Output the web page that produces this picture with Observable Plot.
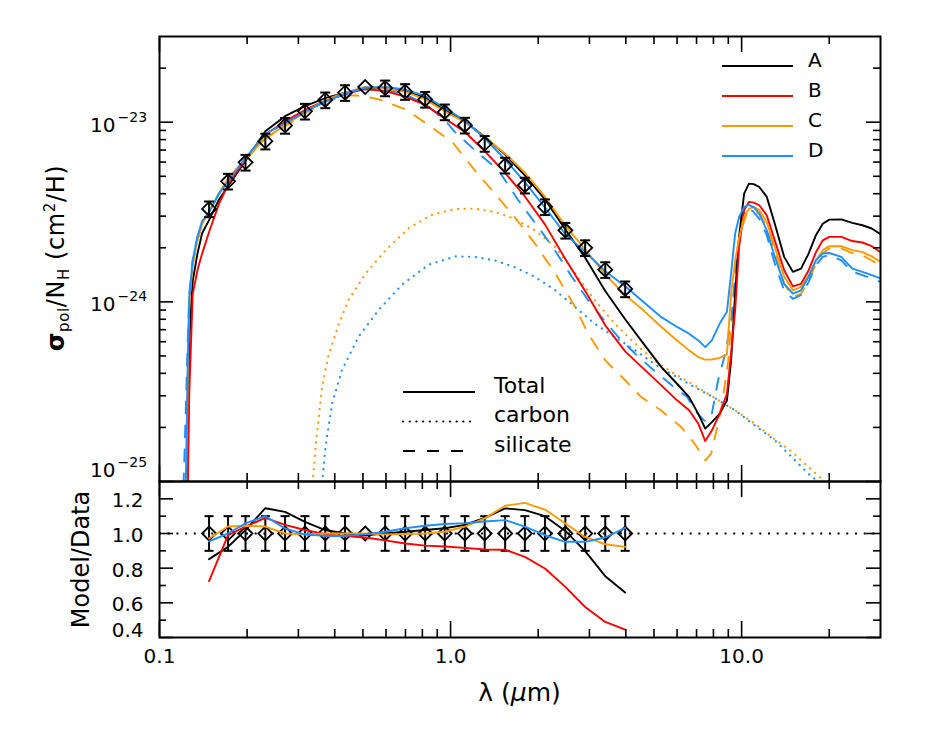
<!DOCTYPE html>
<html><head><meta charset="utf-8">
<script src="https://cdn.jsdelivr.net/npm/d3@7"></script>
<script src="https://cdn.jsdelivr.net/npm/@observablehq/plot@0.6"></script>
<style>
body{margin:0;background:#fff;}
#chart{position:relative;width:927px;height:741px;background:#fff;}
#chart svg{position:absolute;left:0;overflow:visible;}
</style></head><body><div id="chart"></div>
<script>
// ---------- DATA ----------
const UNIT = 1e-24; // polarization cross sections below are in units of 1e-24 cm^2/H

// observed data points
const lamData = [0.148,0.172,0.1975,0.231,0.270,0.316,0.371,0.434,0.509,0.596,0.698,0.818,0.955,1.12,1.31,1.54,1.80,2.11,2.48,2.90,3.40,3.98];
const polData = [3.29,4.69,5.98,7.84,9.59,11.5,13.3,14.6,15.7,15.5,14.8,13.4,11.4,9.62,7.61,5.76,4.46,3.38,2.50,2.00,1.51,1.18];
const errRel  = [0.1,0.1,0.1,0.1,0.1,0.1,0.1,0.1,0,0.1,0.1,0.1,0.1,0.1,0.1,0.1,0.1,0.1,0.1,0.1,0.1,0.1];

// model / data ratios (bottom panel)
const ratioA = [0.852,0.923,1.02,1.146,1.125,1.067,1.02,1.0,0.99,1.0,1.01,1.02,1.03,1.05,1.09,1.145,1.135,1.10,1.015,0.898,0.754,0.66];
const ratioB = [0.725,0.99,1.04,1.09,1.05,1.02,0.996,0.985,0.977,0.96,0.942,0.93,0.925,0.917,0.908,0.906,0.865,0.798,0.692,0.576,0.49,0.446];
const ratioC = [0.971,1.04,1.045,1.04,1.0,0.995,1.0,1.0,1.0,0.995,0.997,1.0,1.01,1.04,1.087,1.16,1.177,1.138,1.058,0.98,0.938,0.923];
const ratioD = [0.955,1.0,1.058,1.1,1.029,0.994,0.986,0.986,0.995,1.01,1.03,1.045,1.055,1.06,1.069,1.077,1.04,0.99,0.952,0.952,0.977,1.033];

// total model curves
const lamModel = [0.12,0.1235,0.125,0.1265,0.13,0.135,0.14,0.148,0.16,0.172,0.1975,0.231,0.27,0.316,0.371,0.434,0.509,0.596,0.698,0.818,0.955,1.12,1.31,1.54,1.80,2.11,2.48,2.90,3.40,3.98,4.6,5.3,6.0,6.6,7.1,7.5,7.9,8.4,8.9,9.2,9.5,9.8,10.2,10.6,11.0,11.5,12.2,13.0,14.0,15.0,16.0,17.0,18.0,19.0,20.0,22.0,24.0,26.0,28.0,30.0];
const totalA = [0.03,0.07,0.15,0.6,1.3,1.85,2.4,2.85,3.7,4.4,6.1,8.9,10.8,12.3,13.6,14.6,15.5,15.5,14.9,13.7,11.7,10.1,8.3,6.6,5.06,3.72,2.53,1.76,1.15,0.80,0.585,0.433,0.35,0.295,0.238,0.197,0.214,0.238,0.282,0.47,1.11,2.3,4.0,4.55,4.52,4.36,3.84,2.72,1.78,1.47,1.53,1.86,2.35,2.72,2.87,2.88,2.75,2.67,2.56,2.38];
const totalB = [0.02,0.05,0.08,0.3,1.1,1.5,1.85,2.45,3.5,4.5,6.2,8.55,10.1,11.7,13.2,14.4,15.3,14.9,13.9,12.5,10.5,8.82,6.91,5.22,3.86,2.70,1.73,1.15,0.74,0.53,0.425,0.343,0.283,0.249,0.21,0.168,0.192,0.238,0.308,0.514,0.9,2.02,3.24,3.6,3.57,3.45,3.03,2.2,1.5,1.22,1.26,1.5,1.89,2.2,2.3,2.3,2.18,2.14,2.04,1.89];
const totalC = [0.03,0.1,0.35,1.0,1.6,2.2,2.7,3.19,4.0,4.88,6.25,8.15,9.6,11.4,13.3,14.6,15.7,15.4,14.8,13.4,11.5,10.0,8.27,6.68,5.25,3.85,2.65,1.96,1.42,1.09,0.897,0.725,0.61,0.537,0.493,0.477,0.478,0.488,0.51,1.11,1.7,2.27,2.97,3.3,3.37,3.24,2.78,2.02,1.38,1.16,1.21,1.4,1.7,1.94,2.04,2.04,1.94,1.89,1.79,1.67];
const totalD = [0.04,0.12,0.45,1.05,1.7,2.3,2.8,3.15,4.0,4.69,6.33,8.62,9.87,11.4,13.1,14.4,15.6,15.7,15.2,14.0,12.0,10.2,8.14,6.2,4.64,3.35,2.38,1.9,1.48,1.22,0.997,0.822,0.725,0.665,0.61,0.56,0.61,0.755,0.88,1.44,2.4,2.97,3.38,3.47,3.37,3.1,2.5,1.78,1.26,1.11,1.16,1.38,1.7,1.86,1.87,1.78,1.53,1.47,1.41,1.35];

// silicate components (dashed)
const lamSilC = [0.12,0.1235,0.125,0.1265,0.13,0.135,0.14,0.148,0.16,0.172,0.1975,0.231,0.27,0.316,0.371,0.434,0.473,0.509,0.567,0.70,0.82,1.015,1.21,1.42,1.66,1.95,2.29,2.68,2.97,3.4,3.98,4.52,5.28,6.2,6.9,7.5,7.86,8.5,9.0,9.5,9.9,10.4,11.1,11.5,12.2,13,14,15,16,17,18,19,20,22,24,26,28,30];
const silC = [0.03,0.1,0.35,1.0,1.6,2.2,2.7,3.19,4.0,4.85,6.2,8.1,9.5,11.2,13.0,14.0,14.1,13.9,13.4,11.8,9.9,7.74,5.41,4.0,2.97,2.11,1.44,0.935,0.665,0.472,0.366,0.295,0.249,0.201,0.162,0.131,0.143,0.249,0.472,1.38,2.4,3.1,3.17,3.08,2.62,1.89,1.26,1.06,1.11,1.32,1.63,1.86,1.98,1.98,1.87,1.82,1.7,1.6];
const lamSilD = [0.12,0.1215,0.1235,0.125,0.1265,0.13,0.135,0.14,0.148,0.16,0.172,0.1975,0.231,0.27,0.316,0.371,0.434,0.509,0.596,0.698,0.818,0.955,1.034,1.21,1.46,1.71,2.0,2.28,2.61,2.97,3.3,3.77,4.31,5.0,5.86,6.5,7.06,7.5,7.86,8.3,8.78,9.24,9.6,9.99,10.5,11.0,11.5,12.2,13,14,15,16,17,18,19,20,22,24,26,28,30];
const silD = [0.07,0.12,0.3,0.6,1.1,1.7,2.3,2.8,3.15,4.0,4.65,6.3,8.6,9.85,11.4,13.0,14.3,15.3,15.2,14.3,12.6,10.3,8.83,7.0,5.41,3.67,2.61,1.94,1.38,1.02,0.822,0.637,0.514,0.415,0.335,0.295,0.238,0.216,0.228,0.366,0.514,0.822,1.7,2.97,3.37,3.16,2.9,2.35,1.63,1.16,1.04,1.09,1.29,1.6,1.78,1.82,1.7,1.47,1.41,1.35,1.29];

// carbon components (dotted)
const lamCarC = [0.33,0.344,0.362,0.38,0.414,0.447,0.511,0.60,0.72,0.865,1.04,1.21,1.42,1.66,1.95,2.29,2.68,3.13,3.67,4.31,5.0,5.86,6.9,8.0,9.5,11.1,12.7,15,17,19.3,21];
const carC = [0.07,0.157,0.338,0.497,0.762,1.03,1.44,1.95,2.58,3.06,3.29,3.3,3.17,2.9,2.5,2.02,1.44,1.02,0.755,0.585,0.472,0.399,0.343,0.295,0.249,0.21,0.177,0.145,0.12,0.1,0.085];
const lamCarD = [0.355,0.372,0.392,0.424,0.484,0.567,0.682,0.84,1.04,1.21,1.42,1.66,1.95,2.29,2.68,3.13,3.67,4.31,5.0,5.86,6.9,8.0,9.5,11.1,13,15,17,18.3,20];
const carD = [0.07,0.157,0.273,0.419,0.643,0.904,1.25,1.61,1.79,1.78,1.7,1.56,1.38,1.16,0.935,0.755,0.637,0.537,0.453,0.39,0.335,0.295,0.249,0.205,0.17,0.135,0.11,0.1,0.085];

const seriesNames = ["A","B","C","D"];
const seriesColors = ["#000000","#ff0000","#ff9900","#1e8fff"];
const styleNames = ["Total","carbon","silicate"];
const styleDash = [null,"0.1,6.6","12,12"];

// tick values
const xMajor = [0.1,1,10];
const xMinor = [0.2,0.3,0.4,0.5,0.6,0.7,0.8,0.9,2,3,4,5,6,7,8,9,20];
const yTopMajor = [1e-25,1e-24,1e-23];
const yTopMinor = [2e-25,3e-25,4e-25,5e-25,6e-25,7e-25,8e-25,9e-25,2e-24,3e-24,4e-24,5e-24,6e-24,7e-24,8e-24,9e-24,2e-23];
const yBotMajor = [0.4,0.6,0.8,1.0,1.2];
const yBotMinor = [0.5,0.7,0.9,1.1];

// ---------- BUILD ----------
const FONT = "DejaVu Sans";
const W = 927, ML = 159, MR = 47;
const innerW = W - ML - MR;
const rows = (lams, vals, k) => lams.map((x, i) => ({x, y: vals[i] * k}));
const fmt1 = d3.format(".1f");

const capSym = {draw(ctx, size){const r = Math.sqrt(size/Math.PI); ctx.moveTo(-r,0); ctx.lineTo(r,0);}};
const diaSym = {draw(ctx, size){const r = Math.sqrt(size/Math.PI); ctx.moveTo(0,-r); ctx.lineTo(r,0); ctx.lineTo(0,r); ctx.lineTo(-r,0); ctx.closePath();}};

function frameTicks(innerH, yMajor, yMinor){
  const s = {stroke:"black", strokeWidth:1.6};
  return [
    Plot.tickX(xMajor, {x:d=>d, insetTop: innerH-16, ...s}),
    Plot.tickX(xMajor, {x:d=>d, insetBottom: innerH-16, ...s}),
    Plot.tickX(xMinor, {x:d=>d, insetTop: innerH-8, ...s}),
    Plot.tickX(xMinor, {x:d=>d, insetBottom: innerH-8, ...s}),
    Plot.tickY(yMajor, {y:d=>d, insetRight: innerW-14, ...s}),
    Plot.tickY(yMajor, {y:d=>d, insetLeft: innerW-14, ...s}),
    Plot.tickY(yMinor, {y:d=>d, insetRight: innerW-7, ...s}),
    Plot.tickY(yMinor, {y:d=>d, insetLeft: innerW-7, ...s})
  ];
}

// ---- top panel ----
const topH = 482, topMT = 36, topMB = 1;
const innerHTop = topH - topMT - topMB;
const totals = [totalA,totalB,totalC,totalD];
const dataRows = lamData.map((x,i)=>({x, y: polData[i]*UNIT, e: errRel[i]}));
const lw = 1.9;
const dotOpts = {strokeWidth: 2.2, strokeDasharray: styleDash[1], strokeLinecap: "round", clip: true};

const topMarks = [
  Plot.line(rows(lamCarC, carC, UNIT), {x:"x", y:"y", stroke: seriesColors[2], ...dotOpts}),
  Plot.line(rows(lamCarD, carD, UNIT), {x:"x", y:"y", stroke: seriesColors[3], ...dotOpts}),
  Plot.line(rows(lamSilC, silC, UNIT), {x:"x", y:"y", stroke: seriesColors[2], strokeWidth: lw, strokeDasharray: styleDash[2], clip:true}),
  Plot.line(rows(lamSilD, silD, UNIT), {x:"x", y:"y", stroke: seriesColors[3], strokeWidth: lw, strokeDasharray: styleDash[2], clip:true}),
  ...totals.map((t,i)=>Plot.line(rows(lamModel, t, UNIT), {x:"x", y:"y", stroke: seriesColors[i], strokeWidth: lw, clip:true})),
  Plot.ruleX(dataRows.filter(d=>d.e>0), {x:"x", y1:d=>d.y*(1-d.e), y2:d=>d.y*(1+d.e), stroke:"black", strokeWidth:2}),
  Plot.dot(dataRows.filter(d=>d.e>0), {x:"x", y:d=>d.y*(1-d.e), symbol:capSym, r:5, stroke:"black", strokeWidth:2, fill:"none"}),
  Plot.dot(dataRows.filter(d=>d.e>0), {x:"x", y:d=>d.y*(1+d.e), symbol:capSym, r:5, stroke:"black", strokeWidth:2, fill:"none"}),
  Plot.dot(dataRows, {x:"x", y:"y", symbol:diaSym, r:7, stroke:"black", strokeWidth:1.8, fill:"none"}),
  ...frameTicks(innerHTop, yTopMajor, yTopMinor),
  Plot.frame({stroke:"black", strokeWidth:2}),
  Plot.text(yTopMajor.slice(1), {y:d=>d, frameAnchor:"left", text:()=>"10", textAnchor:"end", dx:-44, dy:3, fontSize:20}),
  Plot.text(yTopMajor.slice(1), {y:d=>d, frameAnchor:"left", text:d=>"\u2212"+Math.round(-Math.log10(d)), textAnchor:"start", dx:-42, dy:-5, fontSize:14}),
  Plot.text(yTopMajor.slice(0,1), {y:d=>d, frameAnchor:"left", text:()=>"10", textAnchor:"end", dx:-44, dy:-11, fontSize:20}),
  Plot.text(yTopMajor.slice(0,1), {y:d=>d, frameAnchor:"left", text:d=>"\u2212"+Math.round(-Math.log10(d)), textAnchor:"start", dx:-42, dy:-19, fontSize:14})
];

const topSvg = Plot.plot({
  width: W, height: topH, marginLeft: ML, marginRight: MR, marginTop: topMT, marginBottom: topMB,
  style: {fontFamily: FONT, fontSize: "20px", background: "transparent", overflow: "visible", color: "black"},
  x: {type:"log", domain:[0.1,30], axis:null},
  y: {type:"log", domain:[1e-25,3e-23], axis:null},
  marks: topMarks
});

// ---- bottom panel ----
const botTopPos = 480;
const botH = 261, botMT = 1, botMB = 104;
const innerHBot = botH - botMT - botMB;
const ratios = [ratioA,ratioB,ratioC,ratioD];
const ratioRows = lamData.map((x,i)=>({x, r: polData[i]/polData[i], e: errRel[i]}));

const botSvg = Plot.plot({
  width: W, height: botH, marginLeft: ML, marginRight: MR, marginTop: botMT, marginBottom: botMB,
  style: {fontFamily: FONT, fontSize: "20px", background: "transparent", overflow: "visible", color: "black"},
  x: {type:"log", domain:[0.1,30], axis:null},
  y: {type:"linear", domain:[0.4,1.3], axis:null},
  marks: [
    Plot.ruleY([1], {stroke:"black", strokeWidth:2, strokeDasharray:"2,6.7"}),
    Plot.ruleX(ratioRows.filter(d=>d.e>0), {x:"x", y1:d=>d.r-d.e, y2:d=>d.r+d.e, stroke:"black", strokeWidth:2}),
    Plot.dot(ratioRows.filter(d=>d.e>0), {x:"x", y:d=>d.r-d.e, symbol:capSym, r:4.5, stroke:"black", strokeWidth:2, fill:"none"}),
    Plot.dot(ratioRows.filter(d=>d.e>0), {x:"x", y:d=>d.r+d.e, symbol:capSym, r:4.5, stroke:"black", strokeWidth:2, fill:"none"}),
    Plot.dot(ratioRows, {x:"x", y:"r", symbol:diaSym, r:7, stroke:"black", strokeWidth:1.8, fill:"none"}),
    ...ratios.map((r,i)=>Plot.line(rows(lamData, r, 1), {x:"x", y:"y", stroke: seriesColors[i], strokeWidth: lw, clip:true})),
    ...frameTicks(innerHBot, yBotMajor, yBotMinor),
    Plot.frame({stroke:"black", strokeWidth:2}),
    Plot.text(yBotMajor.slice(1), {y:d=>d, frameAnchor:"left", text:d=>fmt1(d), textAnchor:"end", dx:-16, dy:2, fontSize:20}),
    Plot.text(yBotMajor.slice(0,1), {y:d=>d, frameAnchor:"left", text:d=>fmt1(d), textAnchor:"end", dx:-16, dy:-7, fontSize:20}),
    Plot.text(xMajor, {x:d=>d, frameAnchor:"bottom", text:d=>fmt1(d), dy:25, fontSize:20}),
    Plot.text(["Model/Data"], {frameAnchor:"left", text:d=>d, rotate:-90, textAnchor:"middle", dx:-78, fontSize:24})
  ]
});

// ---- assemble ----
const root = document.getElementById("chart");
topSvg.style.top = "0px";
botSvg.style.top = botTopPos + "px";
root.appendChild(topSvg);
root.appendChild(botSvg);

// y title of top panel with sub/superscripts
const st = d3.select(topSvg);
const t = st.append("text").attr("transform","translate(64,258) rotate(-90)")
  .attr("text-anchor","middle").attr("font-family",FONT).attr("font-size",24).attr("fill","black").attr("letter-spacing","0.6");
t.append("tspan").attr("font-weight","bold").text("\u03c3");
t.append("tspan").attr("font-size",15).attr("dy",5).text("pol");
t.append("tspan").attr("dy",-5).text("/N");
t.append("tspan").attr("font-size",15).attr("dy",5).text("H");
t.append("tspan").attr("dy",-5).text(" (cm");
t.append("tspan").attr("font-size",15).attr("dy",-9).text("2");
t.append("tspan").attr("dy",9).text("/H)");

// x title of bottom panel (italic mu)
const sb = d3.select(botSvg);
const xt = sb.append("text").attr("x", ML + innerW/2).attr("y", 221)
  .attr("text-anchor","middle").attr("font-family",FONT).attr("font-size",25).attr("fill","black");
xt.append("tspan").text("\u03bb (");
xt.append("tspan").attr("font-style","italic").text("\u03bc");
xt.append("tspan").text("m)");

// series legend (top right)
seriesNames.forEach((name,i)=>{
  const y = 66 + 30*i;
  st.append("line").attr("x1",722).attr("x2",793).attr("y1",y).attr("y2",y)
    .attr("stroke",seriesColors[i]).attr("stroke-width",2);
  st.append("text").attr("x",808).attr("y",y+1).attr("text-anchor","start").attr("font-family",FONT).attr("font-size",20).attr("fill","black").text(name);
});
// line-style legend
styleNames.forEach((name,i)=>{
  const y = 392 + 29.5*i;
  const ln = st.append("line").attr("x1",403).attr("x2",475).attr("y1",y).attr("y2",y)
    .attr("stroke","black").attr("stroke-width",2);
  if (styleDash[i]) ln.attr("stroke-dasharray", styleDash[i]);
  if (i === 1) ln.attr("stroke-linecap","round").attr("stroke-width",2.2);
  st.append("text").attr("x",494).attr("y",y+0.5).attr("text-anchor","start").attr("font-family",FONT).attr("font-size",22).attr("fill","black").text(name);
});
</script></body></html>
